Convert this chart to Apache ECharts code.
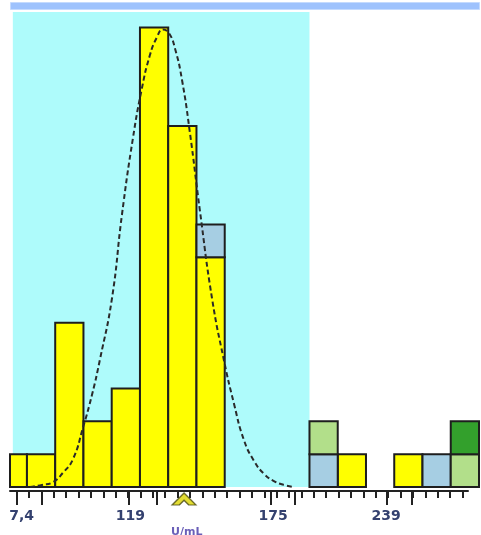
<!DOCTYPE html>
<html>
<head>
<meta charset="utf-8">
<script src="https://cdn.jsdelivr.net/npm/echarts@6/dist/echarts.min.js"></script>
<style>html,body{margin:0;padding:0;background:#fff}#c{width:481px;height:535px}</style>
</head>
<body>
<div id="c"></div>
<script>
// ---- data (x in bin units, y in counts) ----
const binStarts = [0,1,2,3,4,5,6,7,8,9,10,11,12,13,14,15,16];
const yellowCounts     = [1,1,5,2,3,14,11,7,0,0,0,0,1,0,1,0,0];
const blueCounts       = [0,0,0,0,0,0,0,1,0,0,0,1,0,0,0,1,0];
const lightGreenCounts = [0,0,0,0,0,0,0,0,0,0,0,1,0,0,0,0,1];
const darkGreenCounts  = [0,0,0,0,0,0,0,0,0,0,0,0,0,0,0,0,1];
const curveX = [1.11,1.53,1.92,2.27,2.63,2.98,3.30,3.58,4.01,4.36,4.75,5.07,5.35,5.60,5.81,6.03,6.24,6.49,6.77,7.12,7.55,7.97,8.33,8.68,9.04,9.39,9.74,10.10,10.45];
const curveY = [0,0.06,0.15,0.43,0.85,1.80,2.80,3.87,5.75,8.28,10.62,12.15,13.15,13.70,13.94,13.82,13.36,12.39,10.78,8.43,5.75,3.87,2.53,1.43,0.79,0.40,0.18,0.06,0];
const specRange = [0.5, 11];
const tickLabels = ['7,4','119','175','239'];
const tickLabelAt = [0.81, 4.66, 9.71, 13.71];
const majorTicksAt = [0.635, 1.52, 4.62, 5.59, 9.63, 10.49, 13.73, 14.62];
const markerAt = 6.56;
const axisName = 'U/mL';

// ---- build ----
const minorTicks = [];
for (let i = 0; i < 37; i++) minorTicks.push(+(0.635 + i * 0.4383).toFixed(4));

const layers = [
  {vals: yellowCounts, color: '#ffff00'},
  {vals: blueCounts, color: '#a6cee3'},
  {vals: lightGreenCounts, color: '#b2df8a'},
  {vals: darkGreenCounts, color: '#33a02c'}
];
const base = binStarts.map(() => 0);
const barSeries = layers.map((L, li) => {
  const data = [];
  binStarts.forEach((b, i) => {
    const v = L.vals[i];
    if (v > 0) { data.push([b, base[i], base[i] + v]); base[i] += v; }
  });
  return {
    type: 'custom', xAxisIndex: 0, yAxisIndex: 0, z: 3 + li,
    data: data,
    encode: {x: 0, y: [1, 2]},
    renderItem: function (params, api) {
      const p0 = api.coord([api.value(0), api.value(1)]);
      const p1 = api.coord([api.value(0) + 1, api.value(2)]);
      const rect = echarts.graphic.clipRectByRect(
        {x: p0[0], y: p1[1], width: p1[0] - p0[0], height: p0[1] - p1[1]},
        {x: params.coordSys.x, y: params.coordSys.y, width: params.coordSys.width, height: params.coordSys.height + 2}
      );
      if (!rect) return;
      return {type: 'rect', shape: rect, style: {fill: L.color, stroke: '#1e1e1e', lineWidth: 2}};
    }
  };
});

const chart = echarts.init(document.getElementById('c'), null, {renderer: 'canvas'});
chart.setOption({
  animation: false,
  backgroundColor: '#ffffff',
  grid: [
    {left: 10, right: 2, top: 12, bottom: 48, outerBoundsMode: 'none'},
    {left: 10, width: 458, top: 483, height: 8, outerBoundsMode: 'none'},
    {left: 10, width: 458, top: 483, height: 8, outerBoundsMode: 'none'}
  ],
  xAxis: [
    {type: 'value', gridIndex: 0, min: 0.4, max: 17, show: false},
    {type: 'value', gridIndex: 1, min: 0.4, max: 16.61,
      axisLine: {show: true, lineStyle: {color: '#222', width: 2}},
      axisTick: {show: true, customValues: minorTicks, length: 7, lineStyle: {color: '#222', width: 2}},
      axisLabel: {show: false}, splitLine: {show: false}},
    {type: 'value', gridIndex: 2, min: 0.4, max: 16.61,
      axisLine: {show: false},
      axisTick: {show: true, customValues: majorTicksAt, length: 14, lineStyle: {color: '#222', width: 2}},
      axisLabel: {show: true, customValues: tickLabelAt, margin: 18,
        fontFamily: 'DejaVu Sans', fontSize: 14, fontWeight: 'bold', color: '#34416f',
        formatter: function (v) {
          const i = tickLabelAt.findIndex(t => Math.abs(t - v) < 1e-6);
          return i >= 0 ? tickLabels[i] : '';
        }},
      splitLine: {show: false}}
  ],
  yAxis: [
    {type: 'value', gridIndex: 0, min: 0, max: 14.47, show: false},
    {type: 'value', gridIndex: 1, min: 0, max: 1, show: false},
    {type: 'value', gridIndex: 2, min: 0, max: 1, show: false}
  ],
  graphic: [
    {type: 'rect', left: 10, top: 2, shape: {width: 469, height: 7},
      style: {fill: '#9ec2fd', stroke: '#c4dafe', lineWidth: 1}},
    {type: 'text', left: 171, top: 527,
      style: {text: axisName, fontFamily: 'DejaVu Sans', fontSize: 11, fontWeight: 'bold', fill: '#6a5fb8'}}
  ],
  series: [
    {type: 'line', xAxisIndex: 0, yAxisIndex: 0, z: 1, silent: true,
      data: [[specRange[0], 0], [specRange[1], 0]], showSymbol: false,
      lineStyle: {opacity: 0},
      markArea: {silent: true, itemStyle: {color: '#aefbfb', opacity: 1},
        data: [[{xAxis: specRange[0]}, {xAxis: specRange[1]}]]}}
  ].concat(barSeries).concat([
    {type: 'line', xAxisIndex: 0, yAxisIndex: 0, z: 10, smooth: true, showSymbol: false, silent: true,
      data: curveX.map((x, i) => [x, curveY[i]]),
      lineStyle: {color: '#2a2a2a', width: 2, type: [5, 3]}},
    {type: 'scatter', xAxisIndex: 1, yAxisIndex: 1, z: 10, clip: false, silent: true,
      data: [[markerAt, 0]],
      symbol: 'path://M0,10 L10,0 L20,10 L14,10 L10,6 L6,10 Z',
      symbolSize: [24, 12], symbolOffset: [0, 8],
      itemStyle: {color: '#dcd400', borderColor: '#4a4a10', borderWidth: 1.2}}
  ])
});
</script>
</body>
</html>
